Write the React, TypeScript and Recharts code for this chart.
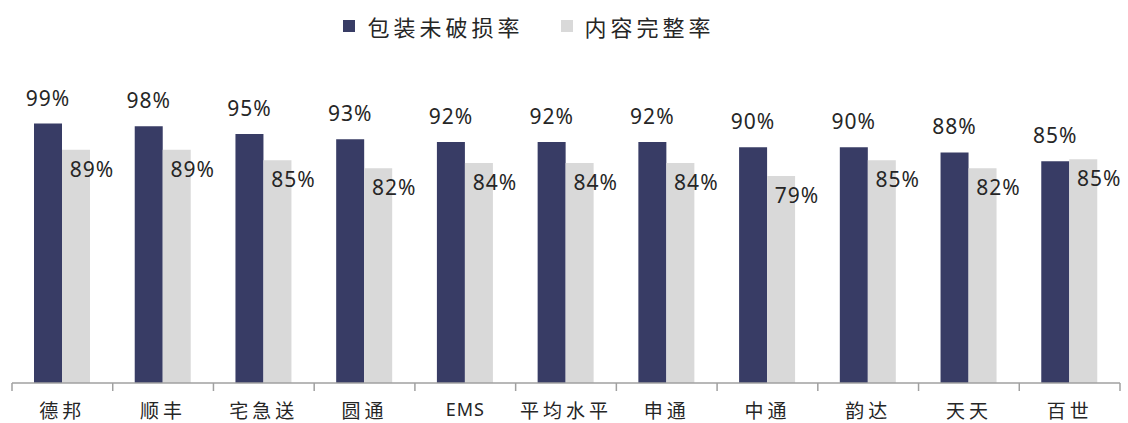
import { BarChart, Bar, XAxis, YAxis, Legend, LabelList } from "recharts";

const carriers = ["德邦", "顺丰", "宅急送", "圆通", "EMS", "平均水平", "申通", "中通", "韵达", "天天", "百世"];
const packageIntact = [99, 98, 95, 93, 92, 92, 92, 90, 90, 88, 84.6];
const contentIntact = [89, 89, 85, 82, 84, 84, 84, 79, 85, 82, 85.4];

const seriesNames = ["包装未破损率", "内容完整率"];
const colors = ["#383C65", "#D9D9D9"];

const data = carriers.map((name, i) => ({
  name,
  pkg: packageIntact[i],
  content: contentIntact[i],
}));

const numFont = "'Noto Sans', 'Open Sans', sans-serif";
const cjkFont = "'Noto Sans CJK SC', 'Noto Sans', sans-serif";
const textColor = "#262626";
const axisColor = "#A0A0A0";

const fmt = (v: number) => `${Math.round(v)}%`;

// dark series: label sits above the bar
const TopLabel = (props: any) => {
  const { x, y, width, value } = props;
  return (
    <text
      x={x + width / 2}
      y={y - 26}
      textAnchor="middle"
      dominantBaseline="central"
      fontFamily={numFont}
      fontSize={21}
      letterSpacing={1}
      fill={textColor}
    >
      {fmt(value)}
    </text>
  );
};

// light series: label straddles the right edge, a bit below the top
const EdgeLabel = (props: any) => {
  const { x, y, width, value } = props;
  return (
    <text
      x={x + width + 2}
      y={y + 19}
      textAnchor="middle"
      dominantBaseline="central"
      fontFamily={numFont}
      fontSize={21}
      letterSpacing={1}
      fill={textColor}
    >
      {fmt(value)}
    </text>
  );
};

// category label plus the tick marks between categories
const CategoryTick = (props: any) => {
  const { x, y, payload, index, visibleTicksCount } = props;
  const half = payload.offset || 0;
  const isLast = index === visibleTicksCount - 1;
  const latin = payload.value === "EMS";
  return (
    <g>
      <line x1={x - half} x2={x - half} y1={y - 8} y2={y} stroke={axisColor} strokeWidth={1.5} />
      {isLast && (
        <line x1={x + half} x2={x + half} y1={y - 8} y2={y} stroke={axisColor} strokeWidth={1.5} />
      )}
      <text
        x={x}
        y={y + 18}
        textAnchor="middle"
        dominantBaseline="central"
        fontFamily={latin ? numFont : cjkFont}
        fontSize={latin ? 18 : 19}
        letterSpacing={latin ? 1 : 4}
        fill={textColor}
      >
        {payload.value}
      </text>
    </g>
  );
};

// legend in series order, not sorted by name
const LegendContent = () => (
  <div style={{ display: "flex", justifyContent: "center", alignItems: "center", marginLeft: -70 }}>
    {seriesNames.map((name, i) => (
      <div key={name} style={{ display: "flex", alignItems: "center", marginRight: i === 0 ? 37 : 0 }}>
        <span style={{ display: "inline-block", width: 12, height: 12, background: colors[i], marginRight: 12 }} />
        <span
          style={{
            fontFamily: cjkFont,
            fontSize: 22,
            letterSpacing: 4,
            color: textColor,
            lineHeight: "28px",
          }}
        >
          {name}
        </span>
      </div>
    ))}
  </div>
);

export default function App() {
  return (
    <div style={{ width: 1128, height: 423, background: "#fff" }}>
      <style>{"body{margin:0;}"}</style>
      <BarChart
        width={1128}
        height={423}
        data={data}
        margin={{ top: 121, right: 8, bottom: 0, left: 12 }}
        barCategoryGap={22}
        barGap={0}
      >
        <XAxis
          dataKey="name"
          height={40}
          tickLine={false}
          tickSize={8}
          tickMargin={0}
          axisLine={{ stroke: axisColor, strokeWidth: 1.5 }}
          tick={<CategoryTick />}
          interval={0}
        />
        <YAxis hide domain={[0, 100]} />
        <Legend
          verticalAlign="middle"
          layout="horizontal"
          wrapperStyle={{ top: 12, left: 0, width: 1128 }}
          content={<LegendContent />}
        />
        <Bar dataKey="pkg" name={seriesNames[0]} fill={colors[0]} isAnimationActive={false}>
          <LabelList dataKey="pkg" content={<TopLabel />} />
        </Bar>
        <Bar dataKey="content" name={seriesNames[1]} fill={colors[1]} isAnimationActive={false}>
          <LabelList dataKey="content" content={<EdgeLabel />} />
        </Bar>
      </BarChart>
    </div>
  );
}
